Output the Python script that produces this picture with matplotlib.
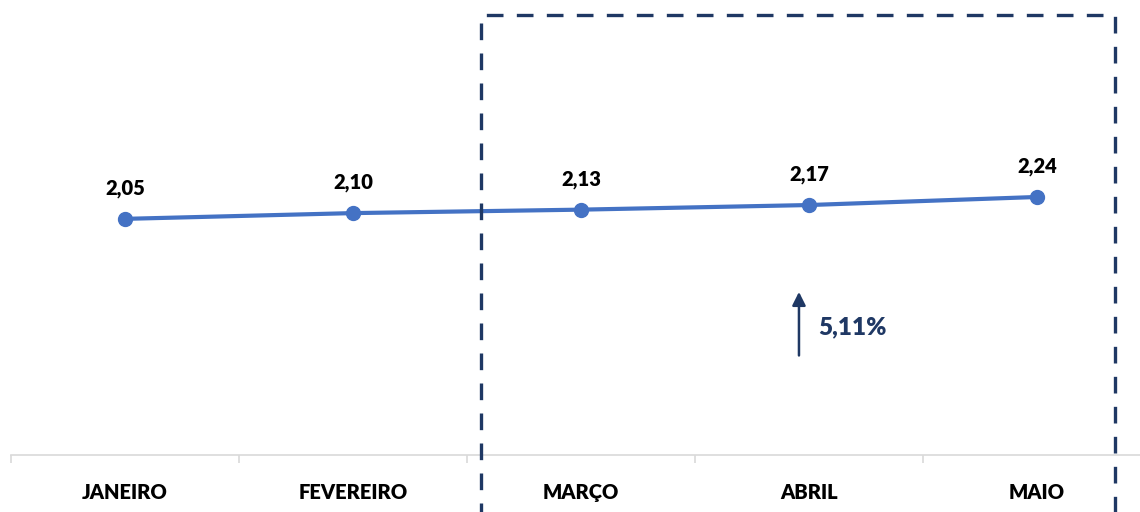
import matplotlib
matplotlib.use("Agg")
import matplotlib.pyplot as plt
from matplotlib.patches import Rectangle
from matplotlib.ticker import FixedLocator

months = ["JANEIRO", "FEVEREIRO", "MARÇO", "ABRIL", "MAIO"]
values = [2.05, 2.10, 2.13, 2.17, 2.24]
growth_label = "5,11%"

line_color = "#4472C4"
navy = "#1F3864"
font = "Lato"
weight = "heavy"

fig = plt.figure(figsize=(11.4, 5.12), dpi=100)
ax = fig.add_axes([11/1140, 57/512, 1140/1140, 455/512])

x = list(range(len(months)))
ax.plot(x, values, color=line_color, lw=3, marker="o", ms=10, solid_capstyle="round", zorder=3)
for xi, v in zip(x, values):
    ax.annotate(f"{v:.2f}".replace(".", ","), (xi, v), xytext=(0, 15), textcoords="offset points",
                ha="center", va="bottom", fontsize=14.5, fontweight=weight, family=font, color="black")

ax.set_xlim(-0.5, len(months) - 0.5)
ax.set_ylim(0, 3.95)
ax.set_yticks([])
for s in ["top", "right", "left"]:
    ax.spines[s].set_visible(False)
ax.spines["bottom"].set_color("#D9D9D9")
ax.spines["bottom"].set_linewidth(1.2)

ax.set_xticks(x)
ax.set_xticklabels(months, fontsize=14.5, fontweight=weight, family=font)
ax.tick_params(axis="x", which="major", length=0, pad=20)
ax.xaxis.set_minor_locator(FixedLocator([i - 0.5 for i in range(len(months) + 1)]))
ax.tick_params(axis="x", which="minor", length=6, color="#D9D9D9", width=1.2)

# dashed highlight box
rect = Rectangle((1.561, -0.7), 4.342 - 1.561, 3.82 + 0.7, fill=False, edgecolor=navy,
                 lw=2.4, ls=(0, (5, 4)), clip_on=False, zorder=4)
ax.add_patch(rect)

# growth arrow
ax.annotate("", xy=(2.956, 1.44), xytext=(2.956, 0.84),
            arrowprops=dict(arrowstyle="-|>,head_length=0.8,head_width=0.4", color=navy, lw=1.8))
ax.text(3.04, 1.11, growth_label, fontsize=17.5, fontweight=weight, family=font, color=navy,
        ha="left", va="center")

fig.savefig("out.png", dpi=100)
